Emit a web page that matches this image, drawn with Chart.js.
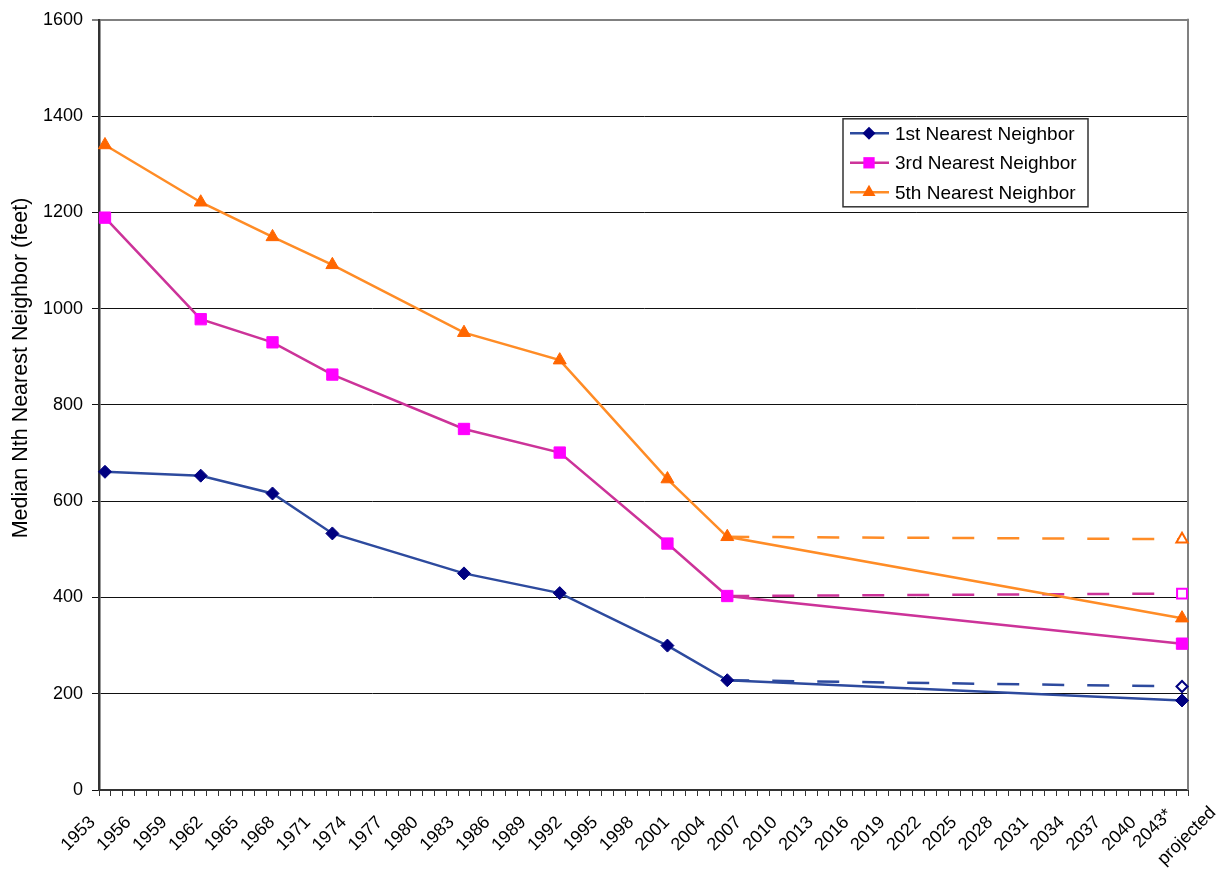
<!DOCTYPE html>
<html><head><meta charset="utf-8">
<script src="https://cdn.jsdelivr.net/npm/chart.js@4/dist/chart.umd.min.js"></script>
<style>html,body{margin:0;padding:0;background:#fff}#wrap{width:1226px;height:869px}</style>
</head><body><div id="wrap"><canvas id="c" width="1226" height="869"></canvas></div>
<script>
// ---- data ----
const firstYear = 1953, lastYear = 2043;
const categories = [];
for (let y = firstYear; y <= lastYear; y++) categories.push(String(y));
const lastLabel = '2043*';
const lastLabelNote = 'projected';
const labelEvery = 3;
const sampleYears = ['1953', '1961', '1967', '1972', '1983', '1991', '2000', '2005', '2043'];
const nn1 = [661, 653, 616, 533, 450, 409, 300, 228, 186];
const nn3 = [1189, 978, 930, 863, 750, 701, 512, 403, 304];
const nn5 = [1340, 1221, 1149, 1091, 950, 893, 646, 526, 357];
const projYears = ['2005', '2043'];
const nn1Proj = [228, 215];
const nn3Proj = [403, 408];
const nn5Proj = [526, 521];
const seriesNames = ['1st Nearest Neighbor', '3rd Nearest Neighbor', '5th Nearest Neighbor'];
const yMin = 0, yMax = 1600, yStep = 200;
const yTitle = 'Median Nth Nearest Neighbor (feet)';

// ---- styles ----
const FONT = '"Liberation Sans", Arial, sans-serif';
const lineCols = ['#2D4A9E', '#CC3399', '#FF8C26'];
const markCols = ['#000080', '#FF00FF', '#FF6600'];
const styles = ['rectRot', 'rect', 'triangle'];
const radii = [6.5, 8, 7.5];
const LAST = categories.length - 1;

function pts(xs, ys) { return xs.map((x, i) => ({ x: x, y: ys[i] })); }

const mainSets = [nn1, nn3, nn5].map((vals, i) => ({
  label: seriesNames[i],
  data: pts(sampleYears, vals),
  xAxisID: 'x',
  borderColor: lineCols[i],
  borderWidth: 2.5,
  pointStyle: styles[i],
  pointRadius: radii[i],
  pointBackgroundColor: markCols[i],
  pointBorderColor: markCols[i],
  pointBorderWidth: 1,
  tension: 0,
  order: 2 - i
}));
const projSets = [nn1Proj, nn3Proj, nn5Proj].map((vals, i) => ({
  label: seriesNames[i] + ' (projected)',
  isProjection: true,
  data: pts(projYears, vals),
  xAxisID: 'x',
  borderColor: lineCols[i],
  borderWidth: 2.5,
  borderDash: [22, 23],
  pointStyle: styles[i],
  pointRadius: [0, radii[i] - 1],
  pointBackgroundColor: '#fff',
  pointBorderColor: markCols[i],
  pointBorderWidth: 2,
  tension: 0,
  order: 5 - i
}));

const boxLegend = {
  id: 'boxLegend',
  afterDraw(chart) {
    const ctx = chart.ctx, a = chart.chartArea;
    const x0 = a.left + 744, y0 = a.top + 99, w = 245, h = 88;
    ctx.save();
    ctx.fillStyle = '#fff'; ctx.fillRect(x0, y0, w, h);
    ctx.strokeStyle = '#333'; ctx.lineWidth = 1.5; ctx.strokeRect(x0, y0, w, h);
    ctx.font = '19px ' + FONT; ctx.textBaseline = 'middle'; ctx.textAlign = 'left';
    const sets = chart.data.datasets.filter(d => !d.isProjection);
    sets.forEach((ds, i) => {
      const cy = y0 + 14.5 + i * 29.5;
      ctx.strokeStyle = ds.borderColor; ctx.lineWidth = ds.borderWidth; ctx.setLineDash([]);
      ctx.beginPath(); ctx.moveTo(x0 + 7, cy); ctx.lineTo(x0 + 46, cy); ctx.stroke();
      const cx = x0 + 26, r = ds.pointRadius;
      ctx.fillStyle = ds.pointBackgroundColor;
      ctx.beginPath();
      if (ds.pointStyle === 'rectRot') {
        ctx.moveTo(cx, cy - r); ctx.lineTo(cx + r, cy); ctx.lineTo(cx, cy + r); ctx.lineTo(cx - r, cy); ctx.closePath();
      } else if (ds.pointStyle === 'rect') {
        const s = r * Math.SQRT1_2; ctx.rect(cx - s, cy - s, 2 * s, 2 * s);
      } else {
        ctx.moveTo(cx, cy - r); ctx.lineTo(cx + r * 0.866, cy + r * 0.5); ctx.lineTo(cx - r * 0.866, cy + r * 0.5); ctx.closePath();
      }
      ctx.fill();
      ctx.fillStyle = '#000';
      ctx.fillText(ds.label, x0 + 52, cy + 1);
    });
    ctx.restore();
  }
};
const frame = {
  id: 'frame',
  beforeDatasetsDraw(chart) {
    const ctx = chart.ctx, a = chart.chartArea;
    ctx.save(); ctx.strokeStyle = '#808080'; ctx.lineWidth = 2;
    ctx.beginPath(); ctx.moveTo(a.right, a.top - 1); ctx.lineTo(a.right, a.bottom); ctx.stroke();
    ctx.restore();
  }
};
const axisTitle = {
  id: 'axisTitle',
  afterDraw(chart) {
    const ctx = chart.ctx;
    ctx.save();
    ctx.translate(27, 368);
    ctx.rotate(-Math.PI / 2);
    ctx.font = '21.5px ' + FONT; ctx.fillStyle = '#000';
    ctx.textAlign = 'center'; ctx.textBaseline = 'alphabetic';
    ctx.fillText(yTitle, 0, 0);
    ctx.restore();
  }
};

new Chart(document.getElementById('c'), {
  type: 'line',
  data: { labels: categories, datasets: mainSets.concat(projSets) },
  plugins: [frame, boxLegend, axisTitle],
  options: {
    responsive: false, animation: false, devicePixelRatio: 1,
    layout: { padding: { top: 18, right: 38, left: 0, bottom: 0 } },
    plugins: { legend: { display: false }, tooltip: { enabled: false } },
    scales: {
      x2: {
        type: 'category', offset: true, position: 'bottom', weight: 0,
        afterFit(s) { s.height = 0; },
        grid: { display: false, offset: true },
        border: { display: false },
        ticks: {
          autoSkip: false, minRotation: 45, maxRotation: 45, mirror: true, padding: -27.6, labelOffset: 46.3,
          color: '#000', font: { family: FONT, size: 18 },
          callback(v, i) { return i === LAST ? lastLabelNote : null; }
        }
      },
      x: {
        type: 'category', offset: true, position: 'bottom', weight: 1,
        afterFit(s) { s.height = 79; },
        grid: { offset: true, drawOnChartArea: false, drawTicks: true, tickLength: 6, color: '#333', lineWidth: 1 },
        border: { display: true, color: '#333', width: 2 },
        ticks: {
          autoSkip: false, minRotation: 45, maxRotation: 45, padding: 16, labelOffset: -12.5,
          color: '#000',
          font: c => (c.index === LAST ? { family: FONT, size: 18, lineHeight: '0px' } : { family: FONT, size: 18 }),
          callback(v, i) {
            if (i === LAST) return lastLabel;
            return i % labelEvery === 0 ? this.getLabelForValue(v) : '';
          }
        }
      },
      y: {
        min: yMin, max: yMax,
        afterFit(s) { s.width = 99; },
        grid: {
          color: c => c.tick && c.tick.value === yMax ? '#808080' : '#111',
          lineWidth: c => c.tick && c.tick.value === yMax ? 2 : 1,
          drawTicks: true, tickLength: 7
        },
        border: { display: true, color: '#333', width: 2.5 },
        ticks: { stepSize: yStep, padding: 9, color: '#000', font: { family: FONT, size: 18 }, callback: v => String(v) },
        title: { display: false, text: yTitle }
      }
    }
  }
});
</script></body></html>
